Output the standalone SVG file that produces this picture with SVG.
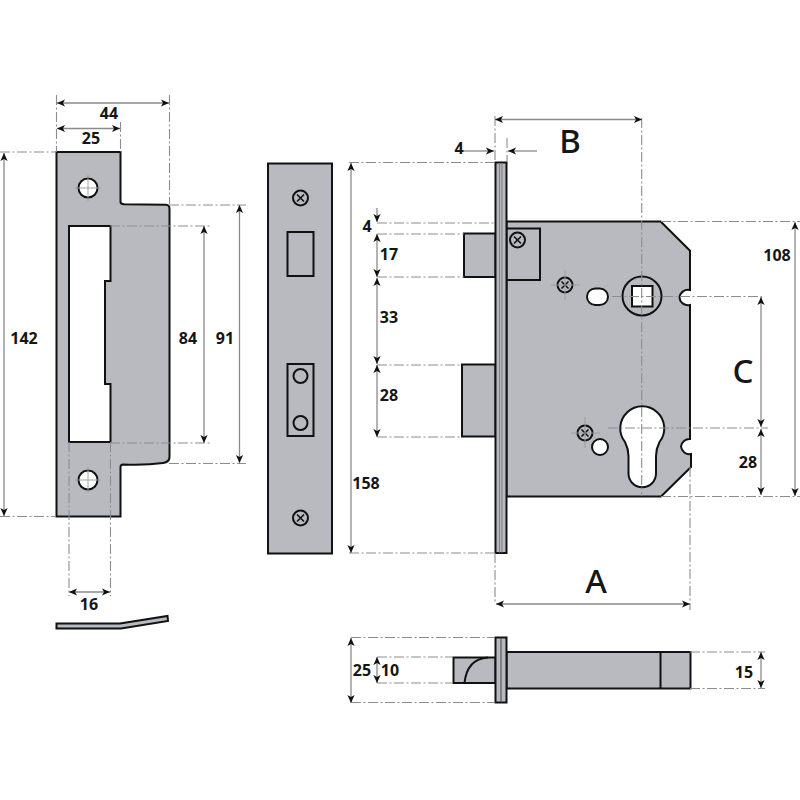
<svg xmlns="http://www.w3.org/2000/svg" width="800" height="800" viewBox="0 0 800 800">
<style>
.p{fill:#b9bac0;stroke:#111;stroke-width:2;stroke-linejoin:miter}
.h{fill:#fff;stroke:#111;stroke-width:2}
.n{fill:none;stroke:#111;stroke-width:2}
.x{fill:none;stroke:#111;stroke-width:1.6}
.e{fill:none;stroke:#8d8d8d;stroke-width:1.1;stroke-dasharray:10 2.5 2 2.5}
.d{fill:none;stroke:#8a8a8a;stroke-width:1.3;marker-start:url(#a);marker-end:url(#a)}
.o{fill:none;stroke:#8a8a8a;stroke-width:1.3;marker-end:url(#a)}
.c{fill:none;stroke:#9a9a9a;stroke-width:.9}
.t{font-family:"Noto Sans","Open Sans",sans-serif;font-weight:700;font-size:16px;fill:#161616;text-anchor:middle}
.b{font-family:"Noto Sans","Open Sans",sans-serif;font-weight:500;font-size:33px;fill:#161616;text-anchor:middle}
</style>
<defs>
<marker id="a" markerUnits="userSpaceOnUse" markerWidth="12" markerHeight="10" viewBox="-9 -5 10 10" refX="0" refY="0" orient="auto-start-reverse">
<path d="M0,0 L-8,-3.6 L-6,0 L-8,3.6 Z" fill="#111"/>
</marker>
<g id="sc"><circle r="7.5" fill="none" stroke="#111" stroke-width="2"/><path d="M-3.5,-3.5 L3.5,3.5 M-3.5,3.5 L3.5,-3.5" class="x"/></g>
</defs>

<g id="strike-plate">
<path class="p" d="M56.5,152 H120.5 V202 Q120.5,204 124,204.3 L166,204.8 Q169.5,205 169.5,209 V457 Q169.5,462 163,463 Q145,465.5 123,464.5 Q120.5,464.5 120.5,467 V516.5 H56.5 Z"/>
<path class="h" d="M69,226 H110.5 V281 H105 V384 H110.5 V442 H69 Z"/>
<circle class="h" cx="88" cy="188" r="9.5"/>
<circle class="h" cx="88" cy="480" r="9.5"/>
<path class="c" d="M88,175 V201 M75,188 H101 M88,467 V493 M75,480 H101"/>
<path class="p" d="M56.5,623.5 L120,623.5 L167.5,616 L168,621 L121,628.5 L56.5,628.5 Z"/>
</g>

<g id="forend-plate">
<rect class="p" x="268" y="163.5" width="64" height="390"/>
<use href="#sc" x="300.5" y="198"/>
<use href="#sc" x="300.5" y="518"/>
<rect class="p" x="287.500" y="232" width="26" height="44"/>
<rect class="p" x="287.500" y="364" width="26" height="72"/>
<circle class="n" cx="300.500" cy="376" r="7"/>
<circle class="n" cx="300.500" cy="423" r="7"/>
</g>

<g id="lock-case">
<rect class="p" x="464" y="233.500" width="31.500" height="43.500"/>
<rect class="p" x="462" y="364.500" width="33.500" height="72"/>
<path class="p" d="M506.500,221.500 H660.700 L690,250.700 V290 A8.500,8.500 0 0 0 679.500,297.500 A8.500,8.500 0 0 0 690,305 V439 A8.500,8.500 0 0 0 681,446.500 A8.500,8.500 0 0 0 691,454 V467 L661,496.500 H506.500 Z"/>
<rect class="p" x="506.500" y="228.500" width="33.500" height="51.500"/>
<rect class="p" x="495.500" y="162.500" width="11" height="390.500"/>
<path d="M499.500,163 V552.500 M502,163 V552.500" fill="none" stroke="#85868c" stroke-width="1.200"/>
<circle class="n" cx="642" cy="296" r="19.500"/>
<rect class="h" x="632" y="286" width="20.500" height="20.500"/>
<rect class="h" x="587" y="288.500" width="21" height="16.500" rx="8.250"/>
<path class="h" d="M628.500,473.500 V456 Q628.500,449 625,442 A22,22 0 1 1 659.500,442 Q656,449 656,456 V473.500 A13.750,13.750 0 0 1 628.500,473.500 Z"/>
<circle class="h" cx="600" cy="447" r="8"/>
<use href="#sc" x="517.500" y="240"/>
<use href="#sc" x="565" y="285"/>
<use href="#sc" x="585" y="433"/>
</g>

<g id="bottom-view">
<rect class="p" x="453.500" y="657.500" width="42" height="25.500"/>
<path class="n" d="M464.500,683 Q467,659 488,657.500"/>
<rect class="p" x="506.500" y="652" width="184" height="36.500"/>
<path class="n" d="M660.500,652 V688.500"/>
<rect class="p" x="495.500" y="637.500" width="11" height="65"/>
<path d="M501,638 V702" fill="none" stroke="#55565a" stroke-width="1.200"/>
</g>

<g id="connectors">
<path class="e" d="M56.500,95 V152 M169.500,95 V204 M120.500,122 V152 M0,152 H56 M0,516.500 H56 M169,205 H246 M110,226 H211 M110,443 H211 M169,463.500 H246 M69,442 V596 M110.500,442 V596"/>
<path class="e" d="M495,116 V162 M507,138 V162 M641.700,118 V496 M349,162.500 H495 M349,553 H495 M377,223 H495 M377,234 H464 M377,277 H464 M377,365 H462 M377,437 H462 M495,553 V604 M690,467 V610"/>
<path class="e" d="M661,221.500 H800 M661,496.500 H800 M612,296.500 H762 M608,428 H768"/>
<path class="e" d="M351,637.500 H495 M351,702.500 H495 M377,657 H453 M377,683 H453 M690,652 H765 M690,688.500 H765"/>
<path class="c" d="M565,270 V300 M551,285 H580 M585,417 V448 M571,433 H600"/>
<path class="d" d="M57,103 H169"/>
<path class="d" d="M57,128.500 H120"/>
<path class="d" d="M4,153 V516"/>
<path class="d" d="M204,226 V443"/>
<path class="d" d="M239.500,205 V463"/>
<path class="d" d="M69,592 H110"/>
<path class="d" d="M495,119.500 H642"/>
<path class="o" d="M462,151 H494"/>
<path class="o" d="M537,151 H508"/>
<path class="d" d="M351,163 V553"/>
<path class="o" d="M377,208 V222"/>
<path class="d" d="M377,234 V277"/>
<path class="d" d="M377,278 V364"/>
<path class="d" d="M377,365 V437"/>
<path class="d" d="M496,604 H690"/>
<path class="d" d="M795,222 V496"/>
<path class="d" d="M761,297 V427"/>
<path class="d" d="M761,429 V495"/>
<path class="d" d="M351,638 V703"/>
<path class="d" d="M377,657 V683"/>
<path class="d" d="M761,652 V688"/>
</g>

<g id="labels">
<text class="t" x="109" y="119">44</text>
<text class="t" x="91" y="144">25</text>
<text class="t" x="24" y="344">142</text>
<text class="t" x="188" y="344">84</text>
<text class="t" x="225" y="344">91</text>
<text class="t" x="89" y="610">16</text>
<text class="t" x="459" y="154">4</text>
<text class="t" x="367" y="232">4</text>
<text class="t" x="389" y="260">17</text>
<text class="t" x="389" y="323">33</text>
<text class="t" x="389" y="401">28</text>
<text class="t" x="366" y="489">158</text>
<text class="t" x="777" y="261">108</text>
<text class="t" x="748" y="468">28</text>
<text class="t" x="362" y="676">25</text>
<text class="t" x="390" y="676">10</text>
<text class="t" x="744" y="678">15</text>
<text class="b" x="570" y="153">B</text>
<text class="b" x="743" y="383">C</text>
<text class="b" x="596" y="593">A</text>
</g>
</svg>
